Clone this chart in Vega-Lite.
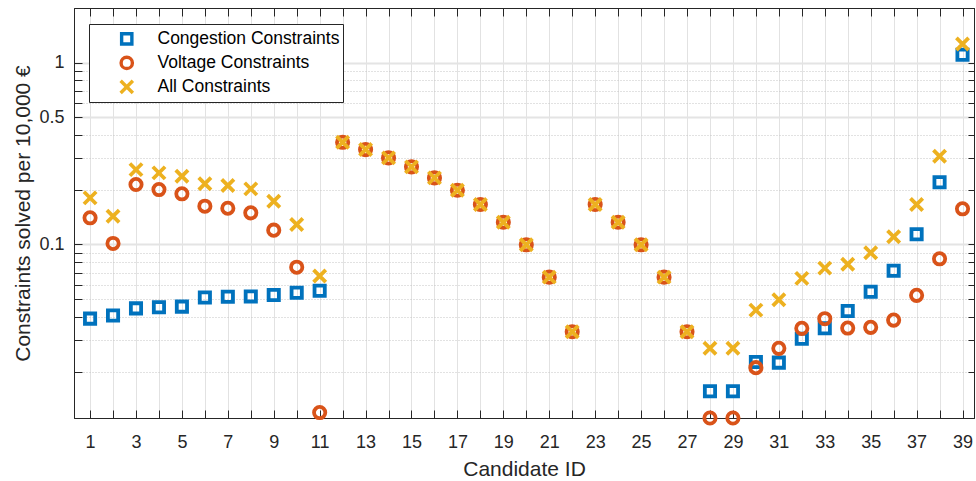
{
  "$schema": "https://vega.github.io/schema/vega-lite/v6.json",
  "width": 900,
  "height": 410,
  "autosize": {"type": "none"},
  "padding": {"left": 74, "top": 8, "right": 2, "bottom": 63},
  "background": "white",
  "config": {
    "font": "Liberation Sans",
    "view": {"stroke": "#262626", "strokeWidth": 1},
    "axis": {"domainColor": "#262626", "tickColor": "#262626", "labelColor": "#262626", "titleColor": "#262626", "labelFont": "Liberation Sans", "titleFont": "Liberation Sans", "titleFontWeight": "normal"}
  },
  "data": {"values": [
    {"id": 1, "series": "Congestion Constraints", "value": 0.0391},
    {"id": 2, "series": "Congestion Constraints", "value": 0.0407},
    {"id": 3, "series": "Congestion Constraints", "value": 0.0445},
    {"id": 4, "series": "Congestion Constraints", "value": 0.0451},
    {"id": 5, "series": "Congestion Constraints", "value": 0.0455},
    {"id": 6, "series": "Congestion Constraints", "value": 0.0511},
    {"id": 7, "series": "Congestion Constraints", "value": 0.0516},
    {"id": 8, "series": "Congestion Constraints", "value": 0.0518},
    {"id": 9, "series": "Congestion Constraints", "value": 0.0527},
    {"id": 10, "series": "Congestion Constraints", "value": 0.0543},
    {"id": 11, "series": "Congestion Constraints", "value": 0.0557},
    {"id": 28, "series": "Congestion Constraints", "value": 0.01557},
    {"id": 29, "series": "Congestion Constraints", "value": 0.01557},
    {"id": 30, "series": "Congestion Constraints", "value": 0.02256},
    {"id": 31, "series": "Congestion Constraints", "value": 0.02239},
    {"id": 32, "series": "Congestion Constraints", "value": 0.03033},
    {"id": 33, "series": "Congestion Constraints", "value": 0.03456},
    {"id": 34, "series": "Congestion Constraints", "value": 0.0430},
    {"id": 35, "series": "Congestion Constraints", "value": 0.0550},
    {"id": 36, "series": "Congestion Constraints", "value": 0.0717},
    {"id": 37, "series": "Congestion Constraints", "value": 0.1139},
    {"id": 38, "series": "Congestion Constraints", "value": 0.2200},
    {"id": 39, "series": "Congestion Constraints", "value": 1.106},
    {"id": 1, "series": "Voltage Constraints", "value": 0.1402},
    {"id": 2, "series": "Voltage Constraints", "value": 0.1013},
    {"id": 3, "series": "Voltage Constraints", "value": 0.2137},
    {"id": 4, "series": "Voltage Constraints", "value": 0.2005},
    {"id": 5, "series": "Voltage Constraints", "value": 0.1900},
    {"id": 6, "series": "Voltage Constraints", "value": 0.1624},
    {"id": 7, "series": "Voltage Constraints", "value": 0.1583},
    {"id": 8, "series": "Voltage Constraints", "value": 0.1493},
    {"id": 9, "series": "Voltage Constraints", "value": 0.1199},
    {"id": 10, "series": "Voltage Constraints", "value": 0.0750},
    {"id": 11, "series": "Voltage Constraints", "value": 0.01189},
    {"id": 12, "series": "Voltage Constraints", "value": 0.3648},
    {"id": 13, "series": "Voltage Constraints", "value": 0.3327},
    {"id": 14, "series": "Voltage Constraints", "value": 0.2995},
    {"id": 15, "series": "Voltage Constraints", "value": 0.2673},
    {"id": 16, "series": "Voltage Constraints", "value": 0.2325},
    {"id": 17, "series": "Voltage Constraints", "value": 0.1988},
    {"id": 18, "series": "Voltage Constraints", "value": 0.1659},
    {"id": 19, "series": "Voltage Constraints", "value": 0.1326},
    {"id": 20, "series": "Voltage Constraints", "value": 0.0996},
    {"id": 21, "series": "Voltage Constraints", "value": 0.0661},
    {"id": 22, "series": "Voltage Constraints", "value": 0.0331},
    {"id": 23, "series": "Voltage Constraints", "value": 0.1659},
    {"id": 24, "series": "Voltage Constraints", "value": 0.1326},
    {"id": 25, "series": "Voltage Constraints", "value": 0.0996},
    {"id": 26, "series": "Voltage Constraints", "value": 0.0661},
    {"id": 27, "series": "Voltage Constraints", "value": 0.0331},
    {"id": 28, "series": "Voltage Constraints", "value": 0.0111},
    {"id": 29, "series": "Voltage Constraints", "value": 0.0111},
    {"id": 30, "series": "Voltage Constraints", "value": 0.02101},
    {"id": 31, "series": "Voltage Constraints", "value": 0.02683},
    {"id": 32, "series": "Voltage Constraints", "value": 0.03456},
    {"id": 33, "series": "Voltage Constraints", "value": 0.03906},
    {"id": 34, "series": "Voltage Constraints", "value": 0.03469},
    {"id": 35, "series": "Voltage Constraints", "value": 0.0350},
    {"id": 36, "series": "Voltage Constraints", "value": 0.03837},
    {"id": 37, "series": "Voltage Constraints", "value": 0.0525},
    {"id": 38, "series": "Voltage Constraints", "value": 0.0834},
    {"id": 39, "series": "Voltage Constraints", "value": 0.1571},
    {"id": 1, "series": "All Constraints", "value": 0.1805},
    {"id": 2, "series": "All Constraints", "value": 0.1430},
    {"id": 3, "series": "All Constraints", "value": 0.2582},
    {"id": 4, "series": "All Constraints", "value": 0.2477},
    {"id": 5, "series": "All Constraints", "value": 0.2373},
    {"id": 6, "series": "All Constraints", "value": 0.2156},
    {"id": 7, "series": "All Constraints", "value": 0.2110},
    {"id": 8, "series": "All Constraints", "value": 0.2023},
    {"id": 9, "series": "All Constraints", "value": 0.1729},
    {"id": 10, "series": "All Constraints", "value": 0.1288},
    {"id": 11, "series": "All Constraints", "value": 0.0670},
    {"id": 12, "series": "All Constraints", "value": 0.3648},
    {"id": 13, "series": "All Constraints", "value": 0.3327},
    {"id": 14, "series": "All Constraints", "value": 0.2995},
    {"id": 15, "series": "All Constraints", "value": 0.2673},
    {"id": 16, "series": "All Constraints", "value": 0.2325},
    {"id": 17, "series": "All Constraints", "value": 0.1988},
    {"id": 18, "series": "All Constraints", "value": 0.1659},
    {"id": 19, "series": "All Constraints", "value": 0.1326},
    {"id": 20, "series": "All Constraints", "value": 0.0996},
    {"id": 21, "series": "All Constraints", "value": 0.0661},
    {"id": 22, "series": "All Constraints", "value": 0.0331},
    {"id": 23, "series": "All Constraints", "value": 0.1659},
    {"id": 24, "series": "All Constraints", "value": 0.1326},
    {"id": 25, "series": "All Constraints", "value": 0.0996},
    {"id": 26, "series": "All Constraints", "value": 0.0661},
    {"id": 27, "series": "All Constraints", "value": 0.0331},
    {"id": 28, "series": "All Constraints", "value": 0.02683},
    {"id": 29, "series": "All Constraints", "value": 0.02683},
    {"id": 30, "series": "All Constraints", "value": 0.04355},
    {"id": 31, "series": "All Constraints", "value": 0.04969},
    {"id": 32, "series": "All Constraints", "value": 0.0651},
    {"id": 33, "series": "All Constraints", "value": 0.0741},
    {"id": 34, "series": "All Constraints", "value": 0.0779},
    {"id": 35, "series": "All Constraints", "value": 0.0900},
    {"id": 36, "series": "All Constraints", "value": 0.1103},
    {"id": 37, "series": "All Constraints", "value": 0.1659},
    {"id": 38, "series": "All Constraints", "value": 0.3056},
    {"id": 39, "series": "All Constraints", "value": 1.267}
  ]},
  "layer": [
    {
      "mark": {"type": "point", "filled": false, "opacity": 1, "strokeOpacity": 1, "strokeWidth": 3.8},
      "encoding": {
        "x": {
          "field": "id", "type": "quantitative",
          "scale": {"domain": [0.3, 39.5], "nice": false, "zero": false},
          "axis": {
            "orient": "bottom", "title": "Candidate ID", "titleFontSize": 21,
            "titleX": 450, "titleY": 57, "titleBaseline": "alphabetic", "titleAnchor": "middle",
            "values": [1,2,3,4,5,6,7,8,9,10,11,12,13,14,15,16,17,18,19,20,21,22,23,24,25,26,27,28,29,30,31,32,33,34,35,36,37,38,39],
            "labelExpr": "datum.value % 2 == 1 ? datum.label : ''",
            "format": "d", "labelFontSize": 18, "labelBaseline": "alphabetic", "labelPadding": 37,
            "tickSize": -8, "labelFlush": false,
            "grid": true, "gridColor": "#e2e2e2", "gridWidth": 1
          }
        },
        "y": {
          "field": "value", "type": "quantitative",
          "scale": {"type": "log", "domain": [0.0111, 2], "nice": false},
          "axis": {
            "orient": "left", "title": "Constraints solved per 10,000 €", "titleFontSize": 21,
            "titleX": -45, "titleY": 205, "titleAngle": 270, "titleBaseline": "alphabetic", "titleAlign": "center",
            "values": [0.02,0.03,0.04,0.05,0.06,0.07,0.08,0.09,0.1,0.2,0.3,0.4,0.5,0.6,0.7,0.8,0.9,1,2],
            "labelExpr": "datum.value == 0.1 ? '0.1' : datum.value == 0.5 ? '0.5' : datum.value == 1 ? '1' : ''",
            "labelFontSize": 18, "labelPadding": 18, "tickSize": -8, "labelFlush": false,
            "grid": true,
            "gridColor": {"condition": {"test": "datum.value == 0.1 || datum.value == 0.5 || datum.value == 1", "value": "#e4e4e4"}, "value": "#c4c4c4"},
            "gridDash": {"condition": {"test": "datum.value == 0.1 || datum.value == 0.5 || datum.value == 1", "value": []}, "value": [1, 2]},
            "gridWidth": {"condition": {"test": "datum.value == 0.1 || datum.value == 0.5 || datum.value == 1", "value": 2}, "value": 1}
          }
        },
        "color": {
          "field": "series", "type": "nominal",
          "scale": {"domain": ["Congestion Constraints", "Voltage Constraints", "All Constraints"], "range": ["#0072BD", "#D95319", "#EDB120"]},
          "legend": {
            "title": null, "orient": "none", "legendX": 15, "legendY": 16,
            "strokeColor": "#262626", "fillColor": "white", "padding": 3,
            "labelFontSize": 17.5, "labelColor": "#000000", "labelFont": "Liberation Sans", "labelLimit": 400,
            "symbolSize": 90, "symbolStrokeWidth": 3.4, "symbolFillColor": "transparent",
            "symbolOffset": 26, "labelOffset": 22, "rowPadding": 0, "clipHeight": 23.8
          }
        },
        "shape": {
          "field": "series", "type": "nominal",
          "scale": {"domain": ["Congestion Constraints", "Voltage Constraints", "All Constraints"], "range": ["square", "circle", "M-1,-1L1,1M-1,1L1,-1"]}
        },
        "size": {
          "field": "series", "type": "nominal", "legend": null,
          "scale": {"domain": ["Congestion Constraints", "Voltage Constraints", "All Constraints"], "range": [105, 150, 75]}
        }
      }
    },
    {
      "mark": {"type": "point", "opacity": 0},
      "encoding": {
        "x": {
          "field": "id", "type": "quantitative",
          "scale": {"domain": [0.3, 39.5], "nice": false, "zero": false},
          "axis": {
            "orient": "top", "title": null, "labels": false, "grid": false,
            "values": [1,2,3,4,5,6,7,8,9,10,11,12,13,14,15,16,17,18,19,20,21,22,23,24,25,26,27,28,29,30,31,32,33,34,35,36,37,38,39],
            "tickSize": -8
          }
        },
        "y": {
          "field": "value", "type": "quantitative",
          "scale": {"type": "log", "domain": [0.0111, 2], "nice": false},
          "axis": {
            "orient": "right", "title": null, "labels": false, "grid": false,
            "values": [0.02,0.03,0.04,0.05,0.06,0.07,0.08,0.09,0.1,0.2,0.3,0.4,0.5,0.6,0.7,0.8,0.9,1,2],
            "tickSize": -6
          }
        }
      }
    }
  ],
  "resolve": {"axis": {"x": "independent", "y": "independent"}}
}
